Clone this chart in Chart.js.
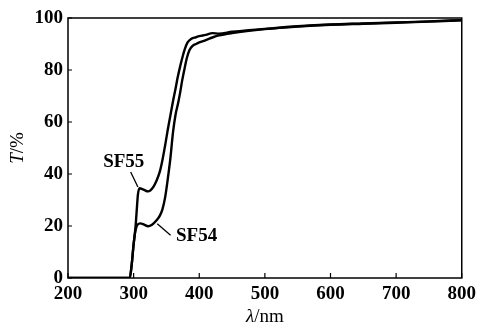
<!DOCTYPE html>
<html>
<head>
<meta charset="utf-8">
<script src="https://cdn.jsdelivr.net/npm/chart.js@4/dist/chart.umd.min.js"></script>
<style>
html,body{margin:0;padding:0;background:#fff;}
#wrap{width:481px;height:324px;position:relative;}
</style>
</head>
<body>
<div id="wrap"><canvas id="c" width="481" height="324"></canvas></div>
<script>
// ---- data ----
const xTickValues = [200, 300, 400, 500, 600, 700, 800];
const yTickValues = [0, 20, 40, 60, 80, 100];

const sf55Wavelength = [200, 294, 297, 300, 303, 305, 306.5, 309, 315, 322, 330, 335, 340, 344, 348, 352, 356, 360, 364, 367, 371, 375, 378, 382, 388, 395, 400, 410, 420, 430, 450, 500, 550, 600, 650, 700, 750, 800];
const sf55Transmittance = [0, 0, 5, 13, 20, 27, 32, 34.5, 34, 33.3, 35, 37.5, 41, 45.5, 51, 57, 62.5, 68, 73, 77, 81.5, 85.5, 88, 90.5, 92, 92.6, 93, 93.5, 94.2, 94, 94.7, 95.8, 96.8, 97.5, 97.9, 98.3, 98.7, 99.2];

const sf54Wavelength = [200, 294, 297, 300, 303, 306, 310, 316, 322, 328, 335, 340, 344, 348, 352, 356, 360, 364, 368, 371, 374, 378, 381, 385, 390, 395, 400, 410, 420, 430, 450, 500, 550, 600, 650, 700, 750, 800];
const sf54Transmittance = [0, 0, 5, 13, 18.5, 20.5, 21, 20.5, 19.9, 20.5, 22.2, 24, 26.5, 31, 38, 46, 56, 63, 67.5, 71.5, 76, 81, 84.5, 87.6, 89.3, 90, 90.6, 91.5, 92.5, 93.3, 94.2, 95.7, 96.7, 97.4, 97.8, 98.2, 98.6, 99.1];

const seriesNames = ['SF55', 'SF54'];

// annotation placement (data units)
const annotations = [
  { text: 'SF55', at: [285, 44.6], line: [[295.5, 40.8], [306.5, 35]] },
  { text: 'SF54', at: [396, 16.3], line: [[336, 20.9], [356.3, 16.4]] }
];

const toPoints = (xs, ys) => xs.map((x, i) => ({ x: x, y: ys[i] }));

const FONT = '"Liberation Serif", "Times New Roman", serif';

const framePlugin = {
  id: 'frame',
  afterDraw(chart) {
    const ctx = chart.ctx;
    const a = chart.chartArea;
    const sx = chart.scales.x, sy = chart.scales.y;
    ctx.save();
    ctx.strokeStyle = '#000';
    ctx.lineWidth = 1.5;
    ctx.strokeRect(a.left, a.top, a.right - a.left, a.bottom - a.top);
    // inward ticks
    ctx.lineWidth = 1.2;
    ctx.beginPath();
    xTickValues.forEach(v => {
      const px = sx.getPixelForValue(v);
      ctx.moveTo(px, a.bottom);
      ctx.lineTo(px, a.bottom - 5);
    });
    yTickValues.forEach(v => {
      const py = sy.getPixelForValue(v);
      ctx.moveTo(a.left, py);
      ctx.lineTo(a.left + 4, py);
    });
    ctx.stroke();

    // series annotations
    ctx.fillStyle = '#000';
    ctx.font = 'bold 19px ' + FONT;
    ctx.textAlign = 'center';
    ctx.textBaseline = 'middle';
    ctx.lineWidth = 1.3;
    annotations.forEach(an => {
      ctx.fillText(an.text, sx.getPixelForValue(an.at[0]), sy.getPixelForValue(an.at[1]));
      ctx.beginPath();
      ctx.moveTo(sx.getPixelForValue(an.line[0][0]), sy.getPixelForValue(an.line[0][1]));
      ctx.lineTo(sx.getPixelForValue(an.line[1][0]), sy.getPixelForValue(an.line[1][1]));
      ctx.stroke();
    });

    // x axis title: λ/nm (italic λ)
    const cx = (a.left + a.right) / 2;
    const ty = 317;
    ctx.textAlign = 'left';
    ctx.textBaseline = 'middle';
    const f1 = 'italic 19px ' + FONT, f2 = '19px ' + FONT;
    ctx.font = f1; const w1 = ctx.measureText('λ').width;
    ctx.font = f2; const w2 = ctx.measureText('/nm').width;
    let x0 = cx - (w1 + w2) / 2;
    ctx.font = f1; ctx.fillText('λ', x0, ty);
    ctx.font = f2; ctx.fillText('/nm', x0 + w1, ty);

    // y axis title: T/% (italic T), rotated
    const cy = (a.top + a.bottom) / 2;
    ctx.translate(18, cy);
    ctx.rotate(-Math.PI / 2);
    ctx.font = f1; const v1 = ctx.measureText('T').width;
    ctx.font = f2; const v2 = ctx.measureText('/%').width;
    const y0 = -(v1 + v2) / 2;
    ctx.font = f1; ctx.fillText('T', y0, 0);
    ctx.font = f2; ctx.fillText('/%', y0 + v1, 0);
    ctx.restore();
  }
};

new Chart(document.getElementById('c'), {
  type: 'line',
  data: {
    datasets: [
      { label: seriesNames[0], data: toPoints(sf55Wavelength, sf55Transmittance) },
      { label: seriesNames[1], data: toPoints(sf54Wavelength, sf54Transmittance) }
    ]
  },
  options: {
    responsive: false,
    animation: false,
    devicePixelRatio: 1,
    layout: { padding: { top: 18, right: 19, left: 0, bottom: 0 } },
    elements: {
      point: { radius: 0 },
      line: { borderColor: '#000', borderWidth: 2.4, cubicInterpolationMode: 'monotone', fill: false }
    },
    plugins: { legend: { display: false }, tooltip: { enabled: false } },
    scales: {
      x: {
        type: 'linear', min: 200, max: 800,
        afterBuildTicks: s => { s.ticks = xTickValues.map(v => ({ value: v })); },
        afterFit: s => { s.height = 46; },
        grid: { display: false, drawTicks: false },
        border: { display: false },
        ticks: { color: '#000', padding: 5, maxRotation: 0, font: { family: FONT, size: 19, weight: 'bold' } }
      },
      y: {
        type: 'linear', min: 0, max: 100,
        afterBuildTicks: s => { s.ticks = yTickValues.map(v => ({ value: v })); },
        afterFit: s => { s.width = 68; },
        grid: { display: false, drawTicks: false },
        border: { display: false },
        ticks: { color: '#000', padding: 5, font: { family: FONT, size: 19, weight: 'bold' } }
      }
    }
  },
  plugins: [framePlugin]
});
</script>
</body>
</html>
